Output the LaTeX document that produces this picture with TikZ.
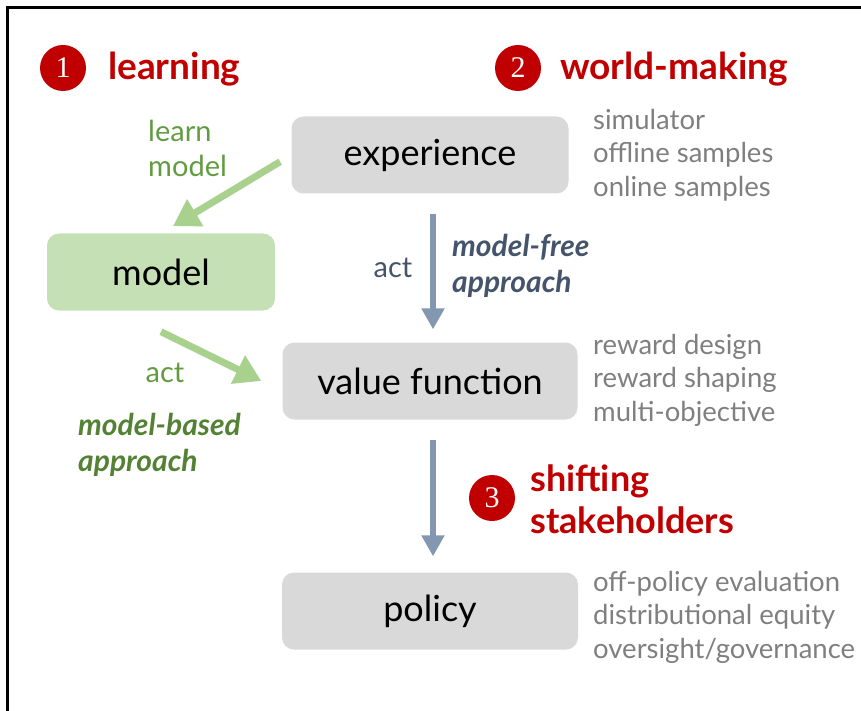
\documentclass[tikz,border=0pt]{standalone}
\usepackage{fontspec}
\setmainfont{Lato}
\newfontfamily\numfont{Liberation Serif}
\usetikzlibrary{arrows.meta}
\definecolor{darkred}{HTML}{C00000}
\definecolor{boxgray}{HTML}{D9D9D9}
\definecolor{boxgreen}{HTML}{C5E0B4}
\definecolor{arrowgreen}{HTML}{A9D18E}
\definecolor{textgreen}{HTML}{629C42}
\definecolor{darkgreen}{HTML}{548235}
\definecolor{arrowblue}{HTML}{8497B0}
\definecolor{slate}{HTML}{44546A}
\definecolor{sidegray}{HTML}{7F7F7F}
\begin{document}
\begin{tikzpicture}[x=1pt, y=-1pt, every node/.style={inner sep=0pt},
		box/.style={fill=boxgray, rounded corners=12pt, minimum height=77pt, font=\fontsize{36}{42}\selectfont},
		num/.style={circle, fill=darkred, text=white, minimum size=46pt, font=\numfont\fontsize{30}{30}\selectfont},
		title/.style={anchor=base west, text=darkred, font=\bfseries\fontsize{37}{42}\selectfont, align=left},
		side/.style={anchor=west, text=sidegray, align=left, font=\fontsize{27.5}{33.5}\selectfont},
		small/.style={font=\fontsize{29}{35}\selectfont, align=left},
		approach/.style={font=\bfseries\itshape\fontsize{30}{36}\selectfont, align=left, anchor=west},
		greenarrow/.style={draw=arrowgreen, line width=7pt, -{Triangle[length=26pt, width=30pt]}},
		bluearrow/.style={draw=arrowblue, line width=6.5pt, -{Triangle[length=21pt, width=22pt]}}]
		\useasboundingbox (0,0) rectangle (861,711);
		\draw[line width=3pt] (7,711) -- (7,8) -- (861,8);
		
		\node[num] at (63,68) (n1) {1};
		\node[title] at (108,80) (learning) {learning};
		\node[num] at (518,68) (n2) {2};
		\node[title] at (560,80) (worldmaking) {world-making};
		
		\node[box, minimum width=277pt] at (430,155) (exp) {experience};
		\node[box, fill=boxgreen, minimum width=228pt] at (161,272) (model) {model};
		\node[box, minimum width=295pt] at (430,381) (value) {value function};
		\node[box, minimum width=296pt] at (430,611) (policy) {policy};
		
		\node[side] at (593,155) (expnotes) {simulator\\offline samples\\online samples};
		\node[side] at (593,380) (valuenotes) {reward design\\reward shaping\\multi-objective};
		\node[side] at (593,617) (policynotes) {off-policy evaluation\\distributional equity\\oversight/governance};
		
		\node[small, text=textgreen, anchor=west] at (148,148) (learnlbl) {learn\\model};
		\node[small, text=slate] at (393,268) (actfree) {act};
		\node[approach, text=slate] at (452,266) (free) {model-free\\approach};
		\node[small, text=textgreen] at (165,373) (actbased) {act};
		\node[approach, text=darkgreen] at (78,445) (based) {model-based\\approach};
		
		\node[num] at (492,498) (n3) {3};
		\node[title, anchor=west, font=\bfseries\fontsize{36}{42}\selectfont] at (530,499) (shifting) {shifting\\stakeholders};
		
		\draw[greenarrow, shorten <=13pt, shorten >=14pt] (exp.west) -- (model.north);
		\draw[greenarrow] ([yshift=-21pt]model.south) -- ([xshift=-21pt]value.west);
		\draw[bluearrow, shorten <=20pt, shorten >=13pt] ([xshift=3pt]exp.south) -- ([xshift=3pt]value.north);
		\draw[bluearrow, shorten <=20pt, shorten >=16pt] ([xshift=3pt]value.south) -- ([xshift=3pt]policy.north);
		\end{tikzpicture}
\end{document}
